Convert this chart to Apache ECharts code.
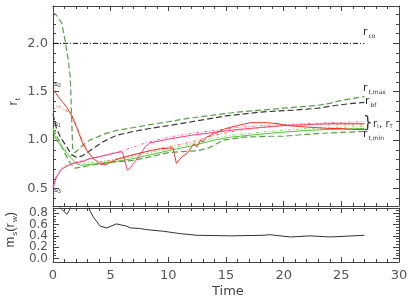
<!DOCTYPE html>
<html><head><meta charset="utf-8">
<script src="https://cdn.jsdelivr.net/npm/echarts@6/dist/echarts.min.js"></script>
<style>html,body{margin:0;padding:0;background:#fff}#c{width:415px;height:299px}</style>
</head><body><div id="c"></div>
<script>
// ---- data ----
const xTicks = [0, 5, 10, 15, 20, 25, 30];
const rTicks = [0.5, 1.0, 1.5, 2.0];
const mTicks = [0.0, 0.2, 0.4, 0.6, 0.8];

const coT = [0, 27];
const coR = [2.0, 2.0];

const maxT = [0, 0.3, 0.75, 1.05, 1.33, 1.5, 1.6, 1.7, 1.85, 2.2, 2.6, 3.2, 3.8, 4.6, 5.5, 7, 8.4, 10, 12, 14, 16, 18, 20, 21, 22, 23, 24, 25, 26, 27];
const maxR = [2.32, 2.29, 2.21, 2.03, 1.82, 1.65, 1.3, 0.92, 0.87, 0.9, 0.95, 1.0, 1.03, 1.07, 1.10, 1.13, 1.16, 1.19, 1.23, 1.26, 1.29, 1.31, 1.33, 1.34, 1.35, 1.36, 1.38, 1.41, 1.43, 1.45];

const bfT = [0, 0.3, 0.7, 1.2, 1.6, 2.05, 2.6, 3.2, 3.8, 4.3, 5.5, 7, 8.4, 10, 12, 15, 18, 20.8, 22, 23, 24.6, 26, 27];
const bfR = [1.27, 1.12, 1.02, 0.93, 0.85, 0.82, 0.84, 0.89, 0.94, 0.98, 1.05, 1.09, 1.12, 1.15, 1.19, 1.25, 1.29, 1.31, 1.32, 1.33, 1.36, 1.38, 1.39];

const redT = [0, 0.45, 1.2, 1.6, 2.05, 2.6, 3.0, 3.5, 4.1, 4.65, 5.5, 6.7, 8.4, 9.3, 10.4, 10.7, 11.2, 11.6, 12.2, 12.5, 12.8, 13.0, 13.3, 14, 15, 16, 17.1, 18.5, 19.5, 20.3, 21.5, 22.6, 24, 24.9, 26, 27];
const redR = [1.53, 1.45, 1.34, 1.26, 1.13, 0.96, 0.88, 0.81, 0.75, 0.75, 0.80, 0.84, 0.89, 0.91, 0.92, 0.76, 0.83, 0.86, 0.96, 0.93, 1.0, 0.98, 1.03, 1.07, 1.12, 1.15, 1.18, 1.18, 1.17, 1.15, 1.14, 1.13, 1.12, 1.12, 1.11, 1.11];

const redDotT = [0, 0.4, 1.0, 1.45, 1.8, 2.1, 2.6, 3.1, 3.6, 4.2, 5, 6, 7, 8.4, 10, 12, 14, 16, 18, 20, 22, 24, 27];
const redDotR = [1.31, 1.36, 1.31, 1.29, 1.22, 1.13, 0.98, 0.87, 0.80, 0.77, 0.79, 0.82, 0.85, 0.89, 0.93, 0.98, 1.05, 1.10, 1.13, 1.15, 1.16, 1.16, 1.16];

const pinkT = [0, 0.3, 0.75, 1.2, 1.76, 2.6, 3.2, 4.1, 5.5, 6.0, 6.2, 6.45, 6.7, 7.0, 7.5, 8.0, 8.4, 10, 12, 14, 16, 18, 20, 22, 24, 27];
const pinkR = [0.5, 0.62, 0.70, 0.73, 0.76, 0.78, 0.81, 0.83, 0.87, 0.88, 0.80, 0.69, 0.71, 0.76, 0.84, 0.93, 0.97, 1.01, 1.05, 1.08, 1.11, 1.13, 1.15, 1.16, 1.17, 1.17];

const pinkDotT = [0, 0.3, 0.75, 1.2, 2, 3, 4, 5, 6, 7, 8, 9, 10, 12, 14, 16, 18, 20, 22, 24, 27];
const pinkDotR = [0.52, 0.63, 0.71, 0.74, 0.77, 0.80, 0.83, 0.86, 0.89, 0.93, 0.97, 1.0, 1.03, 1.07, 1.10, 1.13, 1.15, 1.16, 1.17, 1.18, 1.19];

const greenT = [0, 0.3, 0.9, 1.5, 2.0, 2.4, 3, 4.1, 5.5, 7, 8.5, 10, 12, 14, 15.4, 17, 19.7, 22, 24, 27];
const greenR = [1.10, 1.00, 0.91, 0.82, 0.76, 0.74, 0.745, 0.76, 0.78, 0.81, 0.85, 0.89, 0.94, 1.00, 1.03, 1.05, 1.08, 1.10, 1.11, 1.12];

const greenDotT = [0, 0.3, 0.9, 1.5, 2.0, 2.4, 3, 4.1, 5.5, 7, 8.5, 10, 12, 14, 15.4, 17, 19.7, 22, 24, 27];
const greenDotR = [1.12, 1.02, 0.93, 0.84, 0.78, 0.76, 0.765, 0.78, 0.80, 0.83, 0.87, 0.91, 0.96, 1.02, 1.05, 1.07, 1.10, 1.12, 1.13, 1.14];

const minT = [0, 0.5, 1.0, 1.5, 1.9, 2.5, 3.2, 5, 7, 8.5, 10, 11, 12.5, 13.5, 14.8, 16.5, 18.8, 20, 21, 22, 23.2, 25, 27];
const minR = [1.12, 1.0, 0.87, 0.76, 0.71, 0.72, 0.74, 0.77, 0.79, 0.83, 0.87, 0.88, 0.89, 0.92, 1.0, 1.03, 1.04, 1.04, 1.05, 1.06, 1.07, 1.08, 1.09];

const msT = [0.3, 0.8, 1.19, 1.4, 1.6, 2.0, 2.5, 3.06, 3.5, 4.1, 4.65, 5.5, 6.4, 6.7, 7.5, 8.1, 9.6, 11, 12.5, 15.4, 18.2, 18.8, 20.6, 22.3, 24, 26, 27];
const msV = [0.95, 0.86, 0.78, 0.84, 0.95, 1.0, 1.0, 0.9, 0.73, 0.57, 0.54, 0.61, 0.57, 0.54, 0.53, 0.51, 0.48, 0.44, 0.41, 0.40, 0.41, 0.42, 0.38, 0.40, 0.38, 0.40, 0.41];

// ---- chart ----
const zip = (a, b) => a.map((x, i) => [x, b[i]]);
const TXT = '#555';
const AX = '#444';
const rMin = 0.319, rMax = 2.386;
const mMin = -0.06, mMax = 0.89;
function range(a, b, s) { const r = []; for (let v = a; v <= b + 1e-9; v += s) r.push(+v.toFixed(3)); return r; }
const rMinor = range(0.4, 2.3, 0.1).filter(v => !rTicks.some(t => Math.abs(t - v) < 1e-6));
const mMinor = range(0.0, 0.85, 0.05).filter(v => !mTicks.some(t => Math.abs(t - v) < 1e-6));
const mLabA = mTicks.filter((v, i) => i % 2 === 0);
const mLabB = mTicks.filter((v, i) => i % 2 === 1);

function xAx(grid, pos, labels) {
  return {
    type: 'value', gridIndex: grid, position: pos, min: 0, max: 30, interval: 5,
    axisLine: { show: true, onZero: false, lineStyle: { color: AX, width: 1 } },
    axisTick: { show: true, inside: true, length: 5, lineStyle: { color: AX } },
    minorTick: { show: true, splitNumber: 5, length: 3, lineStyle: { color: AX } },
    axisLabel: { show: labels, color: TXT, fontSize: 13, fontFamily: 'DejaVu Sans', margin: 7,
      showMinLabel: true, showMaxLabel: true },
    splitLine: { show: false }, minorSplitLine: { show: false }
  };
}
function yAx(grid, pos, min, max, vals, len, labVals, line, fs) {
  return {
    type: 'value', gridIndex: grid, position: pos, min: min, max: max,
    axisLine: { show: line, onZero: false, lineStyle: { color: AX, width: 1 } },
    axisTick: { show: true, inside: true, length: len, customValues: vals, lineStyle: { color: AX } },
    axisLabel: { show: !!labVals, customValues: labVals || vals, interval: 0, color: TXT, fontSize: fs || 13,
      fontFamily: 'DejaVu Sans', margin: 5, showMinLabel: true, showMaxLabel: true, hideOverlap: false,
      formatter: v => v.toFixed(1) },
    splitLine: { show: false }
  };
}
const xAxis = [
  xAx(0, 'bottom', false),
  xAx(0, 'top', false),
  xAx(1, 'bottom', true),
  xAx(1, 'top', false)
];
const yAxis = [
  yAx(0, 'left', rMin, rMax, rTicks, 6, rTicks, true),
  yAx(0, 'left', rMin, rMax, rMinor, 3, null, false),
  yAx(0, 'right', rMin, rMax, rTicks, 6, null, true),
  yAx(0, 'right', rMin, rMax, rMinor, 3, null, false),
  yAx(1, 'left', mMin, mMax, mTicks, 6, mLabA, true, 12),
  yAx(1, 'left', mMin, mMax, mMinor, 3, mLabB, false, 12),
  yAx(1, 'right', mMin, mMax, mTicks, 6, null, true),
  yAx(1, 'right', mMin, mMax, mMinor, 3, null, false)
];
function ln(name, t, v, color, type, x, y, w) {
  return { name: name, type: 'line', xAxisIndex: x || 0, yAxisIndex: y || 0, data: zip(t, v),
    showSymbol: false, symbol: 'none', clip: true, silent: true, animation: false,
    lineStyle: { color: color, width: w || 1, type: type } };
}
const series = [
  ln('r_co', coT, coR, '#111', [5, 2, 1, 2]),
  ln('r_t,max', maxT, maxR, '#5a9e46', [6, 3], 0, 0, 1.2),
  ln('r_bf', bfT, bfR, '#3a3a3a', [6, 3], 0, 0, 1.2),
  ln('r_t,min', minT, minR, '#5a9e46', [6, 3], 0, 0, 1.2),
  ln('green r_T', greenDotT, greenDotR, '#8fdc6a', [3, 2, 1, 2]),
  ln('green r_t', greenT, greenR, '#55c23a', 'solid'),
  ln('pink r_T', pinkDotT, pinkDotR, '#ff6f9a', [3, 2, 1, 2]),
  ln('pink r_t', pinkT, pinkR, '#ff3a78', 'solid'),
  ln('red r_T', redDotT, redDotR, '#ff6a5a', [3, 2, 1, 2]),
  ln('red r_t', redT, redR, '#ee3322', 'solid'),
  ln('m_s', msT, msV, '#333', 'solid', 2, 4)
];
const sub = { a: { fontSize: 11, fontFamily: 'DejaVu Sans', fill: '#333' }, b: { fontSize: 6, fontFamily: 'DejaVu Sans', fill: '#333', padding: [7, 0, 0, 1] } };
const sub2 = { a: { fontSize: 10, fontFamily: 'DejaVu Sans', fill: '#333' }, b: { fontSize: 5, fontFamily: 'DejaVu Sans', fill: '#333', padding: [6, 0, 0, 0] } };
function lab(x, y, text, rich) {
  return { type: 'text', left: x, top: y, silent: true, style: { text: text, rich: rich || sub, fill: '#333' } };
}
const sRich = { c: { fontSize: 8, fill: '#333' }, d: { fontSize: 5, fill: '#333', padding: [3, 0, 0, 0] } };
function sLab(x, y, text) {
  return { type: 'text', left: x, top: y, silent: true, style: { text: text, rich: sRich } };
}
const graphic = [
  lab(363, 27, '{a|r}{b|co}'),
  lab(363, 83, '{a|r}{b|t,max}'),
  lab(365, 96, '{a|r}{b|bf}'),
  { type: 'text', left: 363, top: 116, silent: true, style: { text: '}', font: '15px DejaVu Sans', fill: '#333' } },
  lab(373, 119, '{a|r}{b|t}{a|, r}{b|T}', sub2),
  lab(363, 129, '{a|r}{b|t,min}'),
  sLab(54, 80, '{c|s}{d|2}'),
  sLab(54, 120, '{c|s}{d|1}'),
  sLab(54, 186, '{c|s}{d|3}'),
  { type: 'text', left: 7, top: 98, rotation: Math.PI / 2, silent: true,
    style: { text: '{a|r}{b|t}', rich: { a: { fontSize: 13, fill: '#444' }, b: { fontSize: 8, fill: '#444', padding: [8, 0, 0, 1] } } } },
  { type: 'text', left: 4, top: 212, rotation: Math.PI / 2, silent: true,
    style: { text: '{a|m}{b|s}{a|(r}{b|w}{a|)}', rich: { a: { fontSize: 13, fill: '#444' }, b: { fontSize: 8, fill: '#444', padding: [8, 0, 0, 1] } } } },
  { type: 'text', left: 212, top: 285, silent: true, style: { text: 'Time', font: '13px DejaVu Sans', fill: '#444' } }
];
const chart = echarts.init(document.getElementById('c'), null, { renderer: 'canvas' });
chart.setOption({
  animation: false,
  backgroundColor: '#fff',
  grid: [
    { left: 53, top: 6, width: 346, height: 200 },
    { left: 53, top: 208, width: 346, height: 54 }
  ],
  xAxis: xAxis, yAxis: yAxis, series: series, graphic: graphic
});
</script></body></html>
